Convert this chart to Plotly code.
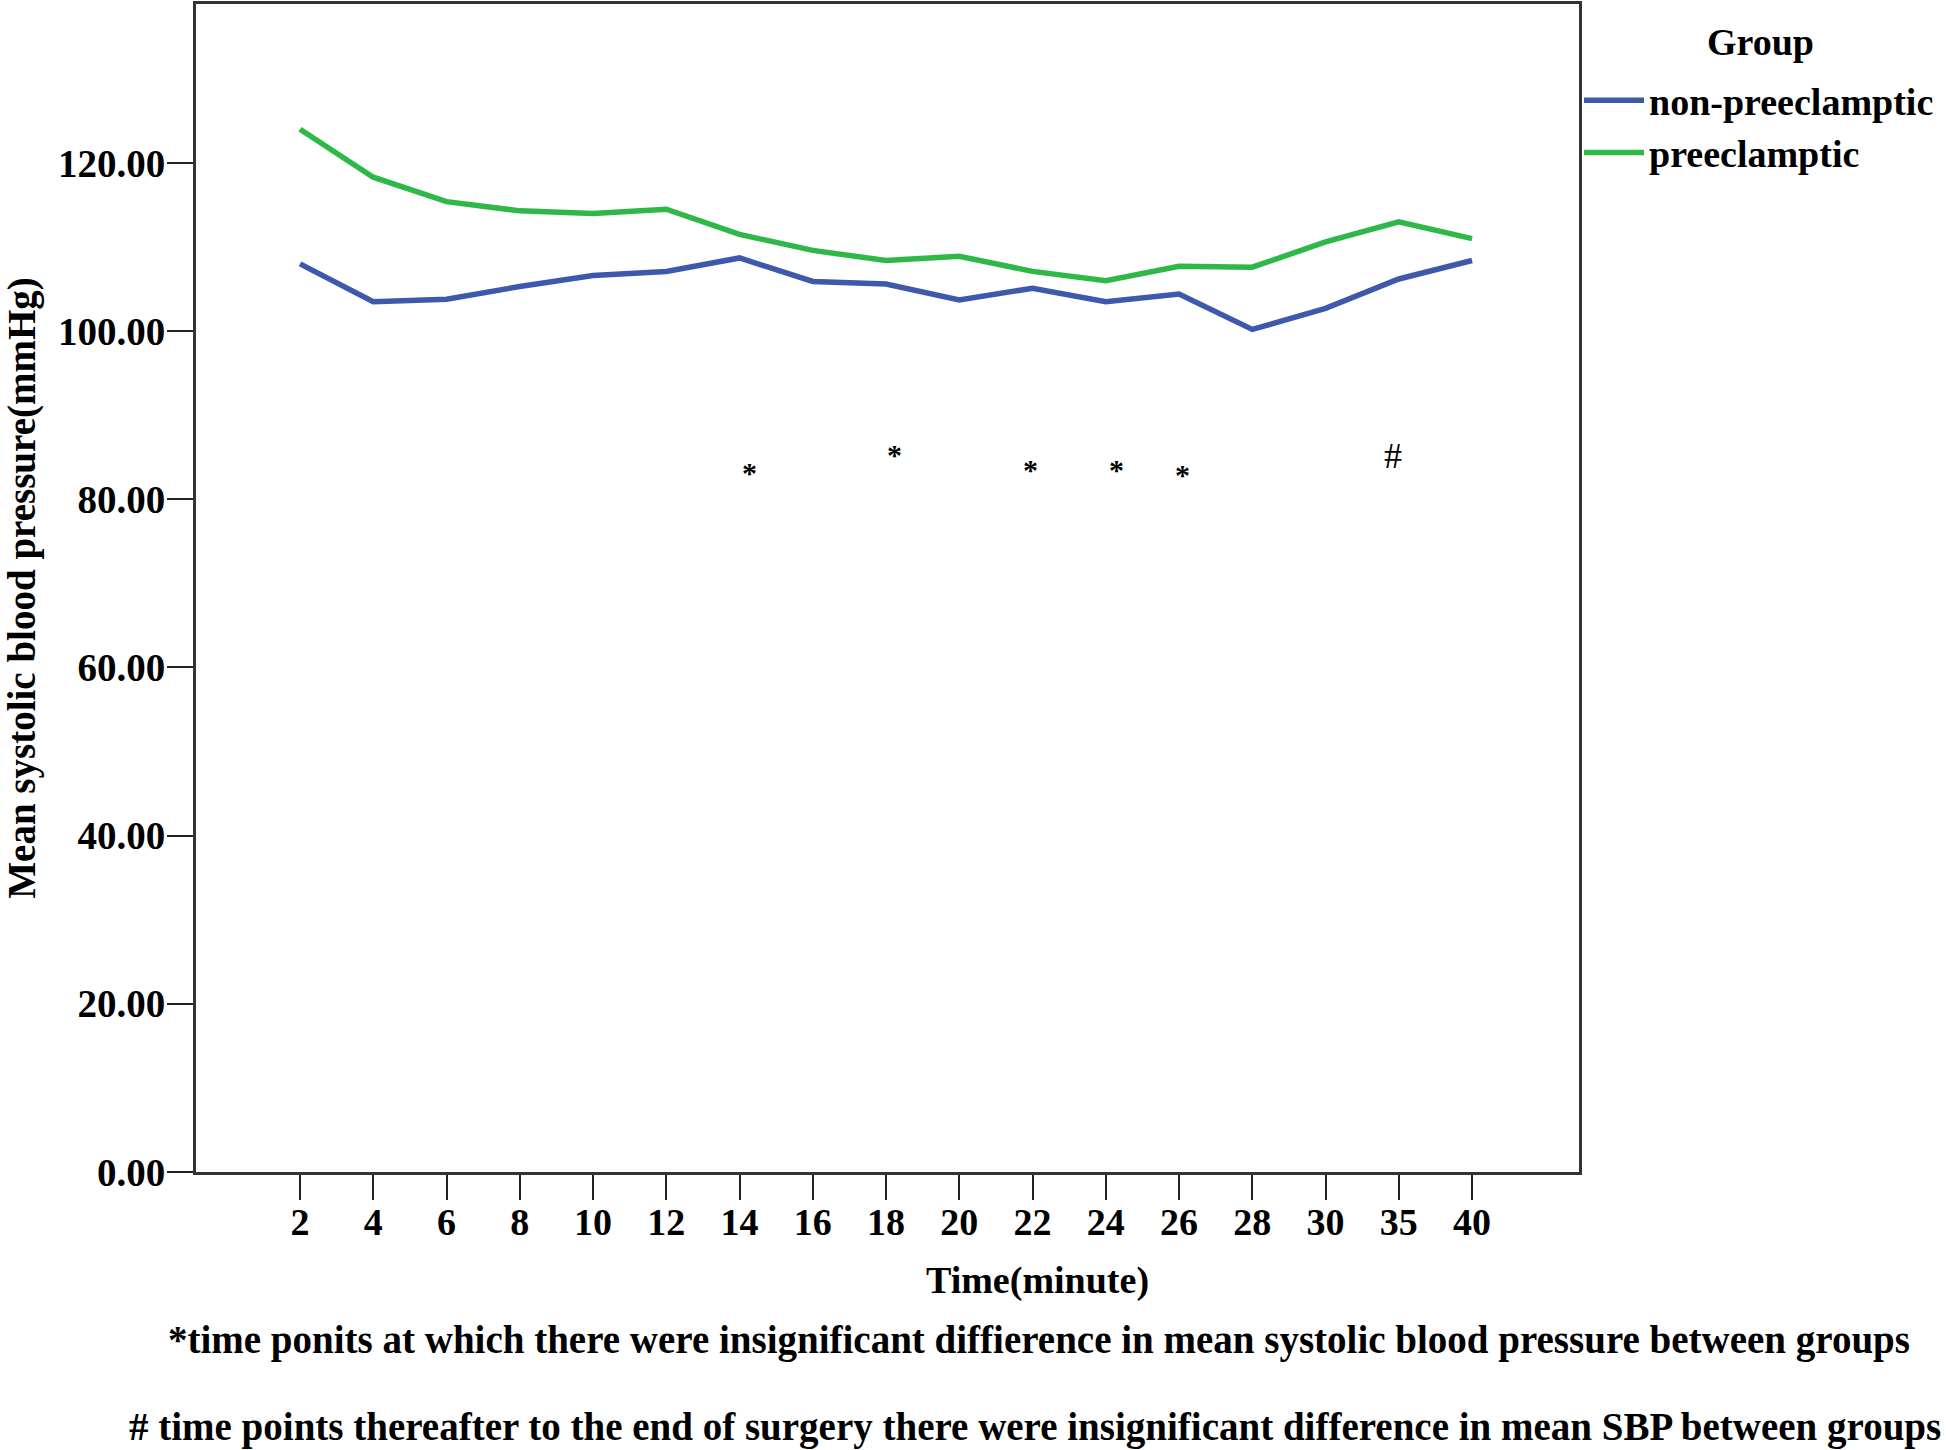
import plotly.graph_objects as go

# ---- data ----
time_labels = ["2", "4", "6", "8", "10", "12", "14", "16", "18", "20",
               "22", "24", "26", "28", "30", "35", "40"]
non_preeclamptic = [108.0, 103.5, 103.8, 105.3, 106.6, 107.1, 108.7, 105.9, 105.6,
                    103.7, 105.1, 103.5, 104.4, 100.2, 102.7, 106.2, 108.4]
preeclamptic = [124.0, 118.3, 115.4, 114.3, 114.0, 114.5, 111.5, 109.6, 108.4,
                108.9, 107.1, 106.0, 107.7, 107.6, 110.6, 113.0, 111.0]

# significance marks (x as category position index, y in mmHg)
sig_labels = ["*", "*", "*", "*", "*", "#"]
sig_x = [6.14, 8.12, 9.97, 11.14, 12.05, 14.92]
sig_y = [83.2, 85.3, 83.6, 83.6, 82.9, 85.1]

y_ticks = [0, 20, 40, 60, 80, 100, 120]

footnote1 = "*time ponits at which there were insignificant diffierence in mean systolic blood pressure between groups"
footnote2 = "# time points thereafter to the end of surgery there were insignificant difference in mean SBP between groups"

FONT = "Liberation Serif"
FS = 38
BLUE = "#3E58AC"
GREEN = "#2EB848"

xpos = list(range(len(time_labels)))

fig = go.Figure()
fig.add_trace(go.Scatter(x=xpos, y=non_preeclamptic, mode="lines", name="<b>non-preeclamptic</b>",
                         line=dict(color=BLUE, width=5.5)))
fig.add_trace(go.Scatter(x=xpos, y=preeclamptic, mode="lines", name="<b>preeclamptic</b>",
                         line=dict(color=GREEN, width=5.5)))

for lab, sx, sy in zip(sig_labels, sig_x, sig_y):
    fig.add_annotation(x=sx, y=sy, xref="x", yref="y",
                       text=("<b>%s</b>" % lab) if lab == "*" else lab, showarrow=False,
                       font=dict(family=FONT, size=30 if lab == "*" else 36, color="black"),
                       xanchor="center", yanchor="middle")

W, H = 1946, 1450
L, R, T, B = 196, W - 1579, 4, H - 1172
pw, ph = W - L - R, H - T - B

def px_to_paper(xp, yp):
    return (xp - L) / pw, (H - B - yp) / ph

ax, ay = px_to_paper(1037, 1280)
fig.add_annotation(x=ax, y=ay, xref="paper", yref="paper", text="<b>Time(minute)</b>",
                   showarrow=False, font=dict(family=FONT, size=FS, color="black"),
                   xanchor="center", yanchor="middle")
f1x, f1y = px_to_paper(1039, 1340)
fig.add_annotation(x=f1x, y=f1y, xref="paper", yref="paper", text="<b>" + footnote1 + "</b>",
                   showarrow=False, font=dict(family=FONT, size=39, color="black"),
                   xanchor="center", yanchor="middle")
f2x, f2y = px_to_paper(1035, 1427)
fig.add_annotation(x=f2x, y=f2y, xref="paper", yref="paper", text="<b>" + footnote2 + "</b>",
                   showarrow=False, font=dict(family=FONT, size=39, color="black"),
                   xanchor="center", yanchor="middle")
gx, gy = px_to_paper(1760, 42)
fig.add_annotation(x=gx, y=gy, xref="paper", yref="paper", text="<b>Group</b>",
                   showarrow=False, font=dict(family=FONT, size=FS, color="black"),
                   xanchor="center", yanchor="middle")

_, legy = px_to_paper(0, 69)

fig.update_layout(
    width=W, height=H,
    margin=dict(l=L, r=R, t=T, b=B, autoexpand=False),
    plot_bgcolor="white", paper_bgcolor="white",
    font=dict(family=FONT, size=FS, color="black"),
    showlegend=True,
    legend=dict(
        x=1.0, y=legy, xanchor="left", yanchor="top",
        font=dict(family=FONT, size=FS, color="black"),
        bgcolor="rgba(0,0,0,0)", tracegroupgap=0, itemwidth=60,
    ),
)
fig.update_xaxes(
    range=[-1.42, 17.46], tickmode="array", tickvals=xpos,
    ticktext=["<b>%s</b>" % t for t in time_labels],
    ticks="outside", ticklen=25, tickwidth=2, tickcolor="#222",
    ticklabelstandoff=-11,
    showline=True, linecolor="#333", linewidth=3, mirror=True,
    showgrid=False, zeroline=False,
    tickfont=dict(family=FONT, size=FS, color="black"),
)
fig.update_yaxes(
    range=[0, 138.9], tickmode="array", tickvals=y_ticks,
    ticktext=["<b>%.2f</b>" % v for v in y_ticks],
    ticks="outside", ticklen=26, tickwidth=2, tickcolor="#222",
    ticklabelstandoff=-6,
    showline=True, linecolor="#333", linewidth=3, mirror=True,
    showgrid=False, zeroline=False,
    tickfont=dict(family=FONT, size=39, color="black"),
    title=dict(text="<b>Mean systolic blood pressure(mmHg)</b>", standoff=28,
               font=dict(family=FONT, size=39, color="black")),
)

fig.write_html("out.html", config={"displayModeBar": False},
               post_script="document.body.style.margin='0';")
